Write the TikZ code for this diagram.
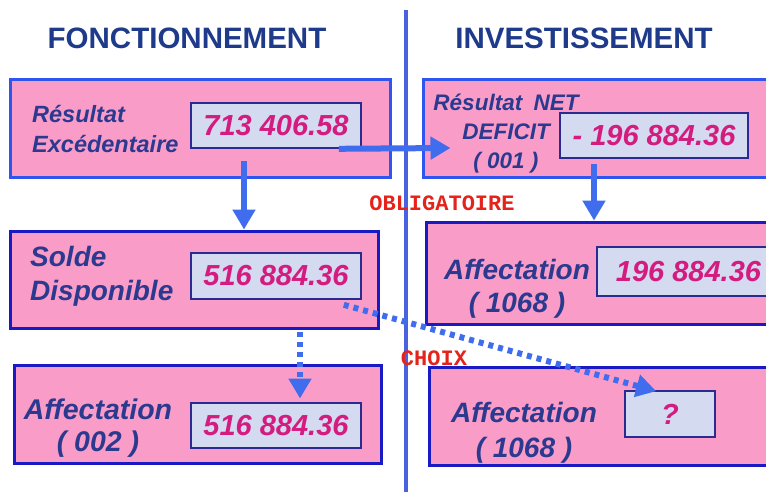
\documentclass[tikz,border=0pt]{standalone}
\usepackage{fontspec}
\setmainfont{Liberation Sans}
\setsansfont{Liberation Sans}
\newfontfamily\stampfont{Liberation Mono}
\usepackage{tikz}
\usetikzlibrary{positioning,arrows.meta,calc}
\definecolor{finPink}{HTML}{FA9CC8}
\definecolor{finEdge}{HTML}{2F55EE}
\definecolor{finEdgeD}{HTML}{1A1AC4}
\definecolor{finCell}{HTML}{D4DAF0}
\definecolor{finCellD}{HTML}{2A2A90}
\definecolor{finNum}{HTML}{D41C80}
\definecolor{finInk}{HTML}{2B3A8E}
\definecolor{finHead}{HTML}{1E3A8A}
\definecolor{finArrow}{HTML}{3F6DEE}
\definecolor{finRule}{HTML}{4A62E0}
\definecolor{finRed}{HTML}{E4231B}

\begin{document}
\begin{tikzpicture}[x=1pt, y=-1pt,
  every node/.style={font=\sffamily},
  block/.style={rectangle, draw=finEdgeD, line width=3pt, fill=finPink, inner sep=0pt},
  cell/.style={rectangle, draw=finCellD, line width=1.6pt, fill=finCell, inner sep=0pt,
               minimum width=170pt, minimum height=45pt, text=finNum,
               font=\sffamily\bfseries\itshape\fontsize{29}{32}\selectfont},
  tag/.style={align=center, text=finInk, inner sep=0pt,
              font=\sffamily\bfseries\itshape\fontsize{28}{33}\selectfont},
  head/.style={text=finHead, inner sep=0pt, font=\sffamily\bfseries\fontsize{29.5}{32}\selectfont},
  stamp/.style={text=finRed, inner sep=0pt, font=\stampfont\bfseries\fontsize{22}{24}\selectfont},
  flow/.style={-{Triangle[length=20pt,width=22pt]}, line width=6pt, finArrow},
  choice/.style={flow, dash pattern=on 5pt off 5pt}
]
  \useasboundingbox (0,0) rectangle (766,492);
  \fill[white] (0,0) rectangle (766,492);

  \node[head] (h1) at (187,38) {FONCTIONNEMENT};
  \node[head] (h2) at (584,38) {INVESTISSEMENT};

  \node[block, draw=finEdge, minimum width=380pt, minimum height=98pt] (b1) at (200,129) {};
  \node[cell] (v1) at (276,125.5) {713 406.58};
  \node[tag, align=left, anchor=west, font=\sffamily\bfseries\itshape\fontsize{23.5}{30}\selectfont]
        (t1) at (32,129) {Résultat\\Excédentaire};

  \node[block, minimum width=368pt, minimum height=97pt] (b2) at (194,279.5) {};
  \node[cell, minimum height=46pt] (v2) at (276,276) {516 884.36};
  \node[tag, align=left, anchor=west, font=\sffamily\bfseries\itshape\fontsize{28}{34}\selectfont]
        (t2) at (30,276) {Solde\\Disponible};

  \node[block, minimum width=367pt, minimum height=98pt] (b3) at (197.5,414) {};
  \node[cell] (v3) at (276,425.5) {516 884.36};
  \node[tag, font=\sffamily\bfseries\itshape\fontsize{28.5}{32}\selectfont] (t3) at (98,428) {Affectation\\( 002 )};

  \node[block, draw=finEdge, minimum width=357pt, minimum height=98pt] (b4) at (601.5,129) {};
  \node[cell, minimum width=188pt] (v4) at (654,135.5) {- 196 884.36};
  \node[tag, font=\sffamily\bfseries\itshape\fontsize{22.5}{29}\selectfont] (t4) at (506,134) {Résultat\enspace NET\\DEFICIT\\( 001 )};

  \node[block, minimum width=354pt, minimum height=102pt] (b5) at (603,273) {};
  \node[cell, minimum width=183pt, minimum height=49pt] (v5) at (688.5,271.5) {196 884.36};
  \node[tag] (t5) at (517,289) {Affectation\\( 1068 )};

  \node[block, minimum width=351pt, minimum height=98pt] (b6) at (604.5,416) {};
  \node[cell, minimum width=90pt, minimum height=46pt] (v6) at (670,414) {?};
  \node[tag, font=\sffamily\bfseries\itshape\fontsize{28}{35}\selectfont] (t6) at (524,433) {Affectation\\( 1068 )};

  \draw[line width=4pt, finRule] (406,10) -- (406,492);

  \draw[flow] ($(v1.south east)+(-23,0)$) -- ($(b4.west)+(29,19)$);
  \draw[flow] ($(v1.south)+(-32,12)$) -- ($(b2.north)+(50,0)$);
  \draw[flow] ($(v4.south)+(-60,5)$) -- ($(b5.north)+(-9,0)$);
  \draw[choice] ($(b2.south)+(106,2)$) -- ($(b3.north)+(102.5,35)$);
  \draw[choice] ($(v2.south east)+(-18,5)$) -- ($(v6.north west)+(32,1)$);

  \node[stamp] (s1) at (442,203) {OBLIGATOIRE};
  \node[stamp] (s2) at (434,358) {CHOIX};
\end{tikzpicture}
\end{document}
